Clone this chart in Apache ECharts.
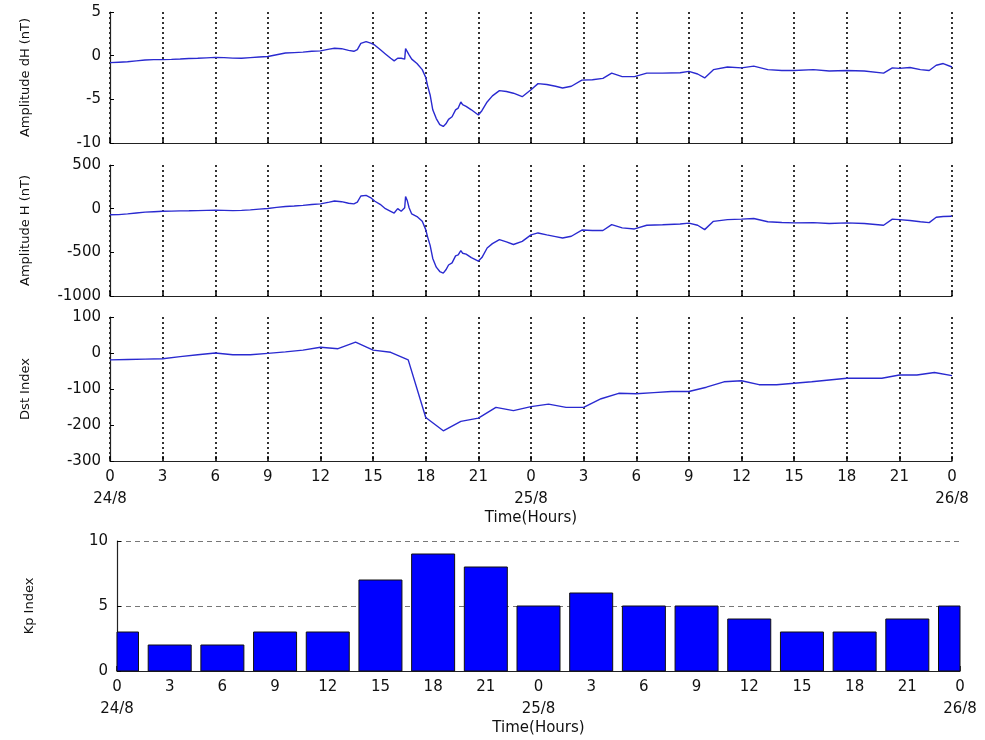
<!DOCTYPE html>
<html>
<head>
<meta charset="utf-8">
<script src="https://cdn.jsdelivr.net/npm/echarts@6/dist/echarts.min.js"></script>
<style>
  html, body { margin: 0; padding: 0; background: #fff; }
  #main { width: 985px; height: 740px; }
</style>
</head>
<body>
<div id="main"></div>
<script>
"use strict";

// time of day axis: hours from 24/8 00:00 to 26/8 00:00
var dayLabels = { 0: '24/8', 24: '25/8', 48: '26/8' };

// amplitude dH (nT)
var dhHours = [0, 0.5, 1, 1.5, 2, 2.5, 3, 3.5, 4, 4.5, 5, 5.5, 6, 6.5, 7, 7.5, 8, 8.5, 9, 9.5,
  10, 10.5, 11, 11.5, 12, 12.5, 12.8, 13.2, 13.6, 13.9, 14.1, 14.3, 14.6, 14.9, 15.1, 15.4, 15.7,
  16.0, 16.2, 16.4, 16.5, 16.6, 16.7, 16.8, 16.85, 16.95, 17.05, 17.2, 17.5, 17.8, 18.0, 18.1,
  18.25, 18.4, 18.6, 18.8, 19.0, 19.15, 19.3, 19.5, 19.7, 19.85, 20.0, 20.1, 20.3, 20.6, 21.0,
  21.2, 21.5, 21.8, 22.2, 22.6, 23.0, 23.5, 24.0, 24.4, 24.9, 25.4, 25.8, 26.3, 26.9, 27.5, 28.1,
  28.6, 29.2, 29.9, 30.6, 31.5, 32.5, 33.0, 33.5, 33.9, 34.4, 35.2, 36.0, 36.7, 37.5, 38.3, 39.0,
  40.1, 41.0, 42.0, 43.0, 44.1, 44.6, 45.0, 45.6, 46.2, 46.7, 47.1, 47.5, 48.0];
var dhValues = [-0.8, -0.75, -0.7, -0.6, -0.5, -0.45, -0.45, -0.42, -0.38, -0.33, -0.3, -0.25, -0.2, -0.22, -0.28, -0.3, -0.22, -0.15, -0.1, 0.1,
  0.3, 0.35, 0.4, 0.5, 0.55, 0.75, 0.85, 0.8, 0.6, 0.5, 0.7, 1.4, 1.6, 1.4, 1.2, 0.7, 0.2,
  -0.3, -0.6, -0.3, -0.1, -0.3, -0.2, -0.4, 0.8, 0.6, 0.1, -0.4, -0.9, -1.6, -2.5, -3.4,
  -4.5, -6.2, -7.2, -7.9, -8.1, -7.8, -7.3, -7.0, -6.2, -6.0, -5.3, -5.6, -5.8, -6.2, -6.8,
  -6.3, -5.3, -4.6, -4.0, -4.1, -4.3, -4.7, -3.9, -3.2, -3.3, -3.5, -3.7, -3.5, -2.8, -2.75, -2.6,
  -2.0, -2.4, -2.4, -2.0, -2.0, -1.95, -1.8, -2.1, -2.55, -1.6, -1.3, -1.4, -1.2, -1.6, -1.7, -1.7,
  -1.6, -1.75, -1.7, -1.75, -2.0, -1.4, -1.45, -1.35, -1.6, -1.7, -1.1, -0.9, -1.3];

// amplitude H (nT), second panel
var hHours = dhHours;
var hValues = [-70, -68, -60, -50, -40, -35, -30, -28, -25, -24, -22, -20, -18, -19, -22, -20, -14, -5, 2, 15,
  25, 30, 38, 48, 55, 75, 88, 80, 62, 55, 75, 145, 152, 120, 85, 50, 0,
  -30, -50, 0, -20, -30, -25, 10, 140, 90, 10, -60, -90, -145, -240, -320,
  -420, -570, -670, -720, -738, -700, -645, -620, -540, -530, -480, -510, -520, -560, -600,
  -560, -450, -400, -355, -380, -410, -375, -300, -278, -300, -320, -336, -316, -245, -250, -250,
  -182, -220, -232, -190, -185, -175, -165, -190, -240, -145, -125, -120, -113, -150, -158, -163,
  -160, -170, -163, -170, -190, -120, -125, -136, -150, -160, -98, -90, -86];

// hourly Dst index (nT)
var dstHours = [0, 1, 2, 3, 4, 5, 6, 7, 8, 9, 10, 11, 12, 13, 14, 15, 16, 17, 18, 19, 20, 21, 22, 23, 24,
  25, 26, 27, 28, 29, 30, 31, 32, 33, 34, 35, 36, 37, 38, 39, 40, 41, 42, 43, 44, 45, 46, 47, 48];
var dstValues = [-19, -18, -17, -16, -10, -5, 0, -5, -5, -1, 3, 8, 16, 12, 30, 8, 2, -19,
  -179, -216, -190, -181, -151, -160, -149, -142, -151, -151, -127, -112, -113, -110, -107, -107,
  -95, -80, -77, -88, -88, -84, -80, -75, -70, -70, -70, -61, -61, -54, -63];

// 3-hourly Kp index
var kpHours = [0, 3, 6, 9, 12, 15, 18, 21, 24, 27, 30, 33, 36, 39, 42, 45, 48];
var kpValues = [3, 2, 2, 3, 3, 7, 9, 8, 5, 6, 5, 5, 4, 3, 3, 4, 5];

var FONT = 'DejaVu Sans';
var LINE_COLOR = '#2a2ad0';
var BAR_PX = 43;

function pairs(xs, ys) {
  var out = [];
  for (var k = 0; k < xs.length; k++) out.push([xs[k], ys[k]]);
  return out;
}

function hourLabel(v) {
  var txt = String(v % 24);
  if (dayLabels[v] !== undefined) txt += '\n' + dayLabels[v];
  return txt;
}

function makeX(gridIndex, withLabels, dottedGrid, nameGap) {
  return {
    type: 'value', gridIndex: gridIndex, min: 0, max: 48, interval: 3,
    axisLine: { show: true, onZero: false, lineStyle: { color: '#222', width: 1.2 } },
    axisTick: { show: true, inside: true, length: 5, lineStyle: { color: '#000', width: 1.5 } },
    axisLabel: {
      show: withLabels, formatter: hourLabel, margin: 5,
      fontFamily: FONT, fontSize: 15, color: '#111', lineHeight: 22
    },
    name: withLabels ? 'Time(Hours)' : '',
    nameLocation: 'middle', nameGap: nameGap,
    nameTextStyle: { fontFamily: FONT, fontSize: 15, color: '#111' },
    splitLine: {
      show: dottedGrid,
      lineStyle: { color: '#000', type: [2, 3], width: 1.6 }
    }
  };
}

function makeY(gridIndex, min, max, interval, name, nameGap, dashedGrid) {
  return {
    type: 'value', gridIndex: gridIndex, min: min, max: max, interval: interval,
    axisLine: { show: true, onZero: false, lineStyle: { color: '#222', width: 1.2 } },
    axisTick: { show: true, inside: true, length: 4, lineStyle: { color: '#000' } },
    axisLabel: {
      fontFamily: FONT, fontSize: 15, color: '#111', margin: 9,
      formatter: function (v) { return String(v); }
    },
    name: name, nameLocation: 'middle', nameGap: nameGap, nameRotate: 90,
    nameTextStyle: { fontFamily: FONT, fontSize: 13, color: '#111' },
    splitLine: {
      show: dashedGrid,
      lineStyle: { color: '#777', type: [5, 4], width: 1 }
    }
  };
}

// Kp bars centred on each 3-hour mark, cut off at the plot edges like the original
function renderKpBar(params, api) {
  var top = api.coord([api.value(0), api.value(1)]);
  var base = api.coord([api.value(0), 0]);
  var rect = echarts.graphic.clipRectByRect({
    x: top[0] - BAR_PX / 2,
    y: top[1],
    width: BAR_PX,
    height: base[1] - top[1]
  }, {
    x: params.coordSys.x,
    y: params.coordSys.y,
    width: params.coordSys.width,
    height: params.coordSys.height
  });
  if (!rect) return null;
  return {
    type: 'rect',
    shape: rect,
    style: { fill: '#0000ff', stroke: '#111', lineWidth: 1 }
  };
}

var chart = echarts.init(document.getElementById('main'), null, { renderer: 'canvas' });

var option = {
  backgroundColor: '#fff',
  animation: false,
  grid: [
    { left: 110, top: 12, width: 842, height: 131 },
    { left: 110, top: 165, width: 842, height: 131 },
    { left: 110, top: 317, width: 842, height: 144 },
    { left: 117, top: 541, width: 843, height: 130 }
  ],
  xAxis: [
    makeX(0, false, true, 43),
    makeX(1, false, true, 43),
    makeX(2, true, true, 43),
    makeX(3, true, false, 46)
  ],
  yAxis: [
    makeY(0, -10, 5, 5, 'Amplitude dH (nT)', 78, false),
    makeY(1, -1000, 500, 500, 'Amplitude H (nT)', 78, false),
    makeY(2, -300, 100, 100, 'Dst Index', 78, false),
    makeY(3, 0, 10, 5, 'Kp Index', 81, true)
  ],
  series: [
    {
      type: 'line', xAxisIndex: 0, yAxisIndex: 0, showSymbol: false,
      data: pairs(dhHours, dhValues),
      lineStyle: { color: LINE_COLOR, width: 1.4 }
    },
    {
      type: 'line', xAxisIndex: 1, yAxisIndex: 1, showSymbol: false,
      data: pairs(hHours, hValues),
      lineStyle: { color: LINE_COLOR, width: 1.4 }
    },
    {
      type: 'line', xAxisIndex: 2, yAxisIndex: 2, showSymbol: false,
      data: pairs(dstHours, dstValues),
      lineStyle: { color: LINE_COLOR, width: 1.4 }
    },
    {
      type: 'custom', xAxisIndex: 3, yAxisIndex: 3,
      renderItem: renderKpBar,
      encode: { x: 0, y: 1 },
      data: pairs(kpHours, kpValues)
    }
  ]
};

chart.setOption(option);
</script>
</body>
</html>
